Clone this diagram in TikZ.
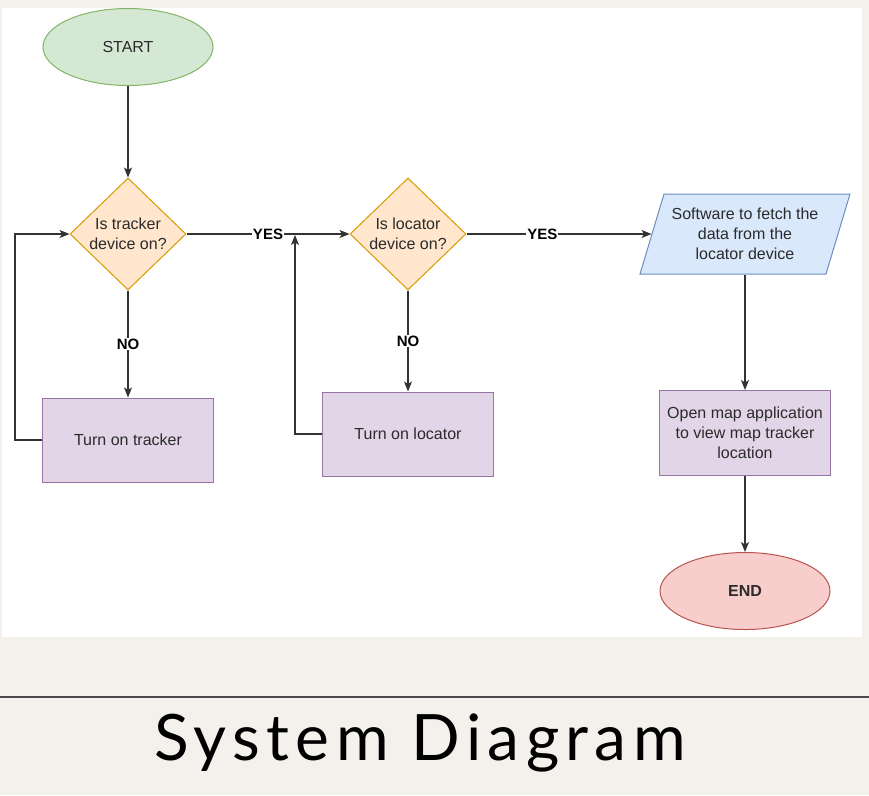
\documentclass[tikz,border=0pt]{standalone}
\usepackage{fontspec}
\setmainfont{Liberation Sans}
\newfontfamily\titlefont{Lato}[LetterSpace=10]
\usetikzlibrary{shapes.geometric,arrows.meta}
\definecolor{paper}{HTML}{F4F1EC}
\definecolor{sepcol}{HTML}{4A4A4A}
\definecolor{linecol}{HTML}{333333}
\definecolor{txtcol}{HTML}{2B2B2B}
\definecolor{gfill}{HTML}{D5E8D4}\definecolor{gdraw}{HTML}{82B366}
\definecolor{ofill}{HTML}{FFE6CC}\definecolor{odraw}{HTML}{D79B00}
\definecolor{bfill}{HTML}{DAE8FC}\definecolor{bdraw}{HTML}{6C8EBF}
\definecolor{pfill}{HTML}{E1D5E7}\definecolor{pdraw}{HTML}{9673A6}
\definecolor{rfill}{HTML}{F8CECC}\definecolor{rdraw}{HTML}{B85450}
\tikzset{
  base/.style={line width=1pt, text=txtcol, font=\fontsize{16}{20}\selectfont, align=center, inner sep=0pt},
  terminal/.style={base, ellipse, minimum width=170pt, minimum height=77pt},
  decision/.style={base, diamond, fill=ofill, draw=odraw, minimum width=116pt, minimum height=112pt},
  process/.style={base, rectangle, fill=pfill, draw=pdraw, minimum width=171pt, minimum height=84pt},
  ioshape/.style={line width=1pt, fill=bfill, draw=bdraw},
  arr/.style={draw=linecol, line width=1.2pt, -{Stealth[length=10pt,width=8pt,inset=2.5pt]}},
  lbl/.style={fill=white, text=black, font=\bfseries\fontsize{15}{18}\selectfont, inner sep=1pt}
}
\begin{document}
\begin{tikzpicture}[x=1pt,y=-1pt]
\useasboundingbox (0,0) rectangle (869,795);
\fill[paper] (0,0) rectangle (869,795);
\fill[white] (2,8) rectangle (862,637);
\draw[sepcol, line width=2pt] (0,697) -- (869,697);
\node[font=\titlefont\fontsize{64}{70}\selectfont, text=black] (title) at (420,743) {System Diagram};

\node[terminal, fill=gfill, draw=gdraw] (start) at (128,47) {START};
\node[decision, label={[base]center:Is tracker\\device on?}] (d1) at (128,234) {};
\node[decision, label={[base]center:Is locator\\device on?}] (d2) at (408,234) {};
\draw[ioshape] (640,274) -- (664,194) -- (850,194) -- (826,274) -- cycle;
\node[base, minimum width=186pt, minimum height=80pt] (para) at (745,234) {Software to fetch the\\data from the\\locator device};
\node[process] (r1) at (128,440) {Turn on tracker};
\node[process] (r2) at (408,434) {Turn on locator};
\node[process, minimum height=85pt] (r3) at (745,433) {Open map application\\to view map tracker\\location};
\node[terminal, fill=rfill, draw=rdraw, font=\bfseries\fontsize{16}{20}\selectfont] (end) at (745,591) {END};

\coordinate (lp1) at (15,440);
\coordinate (lp2) at (295,434);
\coordinate (j) at (295,235);

\draw[arr] (start) -- (d1);
\draw[arr] (d1) -- node[lbl]{YES} (d2);
\draw[arr] (d1) -- node[lbl]{NO} (r1);
\draw[arr] (r1.west) -- (lp1) |- (d1.west);
\draw[arr] (d2) -- node[lbl]{NO} (r2);
\draw[arr] (r2.west) -- (lp2) -- (j);
\draw[arr] (d2.east) -- node[lbl, pos=0.41]{YES} (para.west);
\draw[arr] (para.south) -- (r3.north);
\draw[arr] (r3) -- (end);
\end{tikzpicture}
\end{document}
